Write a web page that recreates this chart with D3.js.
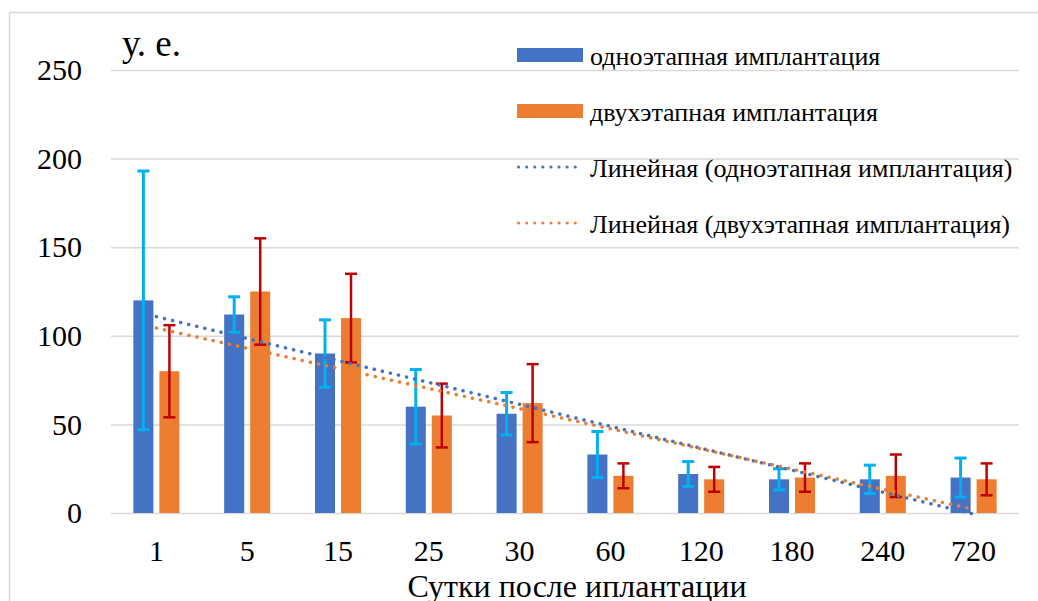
<!DOCTYPE html>
<html>
<head>
<meta charset="utf-8">
<script src="https://cdn.jsdelivr.net/npm/d3@7"></script>
<style>
	html, body { margin: 0; padding: 0; background: #fff; }
	#chart { width: 1038px; height: 601px; }
	text { font-family: "Liberation Serif", "Times New Roman", serif; fill: #000; }
</style>
</head>
<body>
<div id="chart"></div>
<script>
let days = ["1", "5", "15", "25", "30", "60", "120", "180", "240", "720"];
let seriesNames = ["одноэтапная имплантация", "двухэтапная имплантация"];
let oneStage = [120, 112, 90, 60, 56, 33, 22, 19, 19, 20];
let oneStageErr = [73, 10, 19, 21, 12, 13, 7, 6, 8, 11];
let twoStage = [80, 125, 110, 55, 62, 21, 19, 20, 21, 19];
let twoStageErr = [26, 30, 25, 18, 22, 7, 7, 8, 12, 9];
let yTicks = [0, 50, 100, 150, 200, 250];
let yLabel = "у. е.";
let xLabel = "Сутки после иплантации";

let colors = ["#4472C4", "#ED7D31"];
let errColors = ["#00B0F0", "#C00000"];
let gridColor = "#D9D9D9";

let width = 1038;
let height = 601;
let plot = { left: 111, right: 1019, top: 70, bottom: 513 };

let svg = d3
	.select("#chart")
	.append("svg")
	.attr("width", width)
	.attr("height", height);

// outer frame, cut by the picture edge on the right and bottom
svg
	.append("rect")
	.attr("x", 9.5)
	.attr("y", 12.5)
	.attr("width", 1040)
	.attr("height", 600)
	.attr("fill", "none")
	.attr("stroke", gridColor)
	.attr("stroke-width", 1.5);

let xScale = d3
	.scaleBand()
	.domain(days)
	.range([plot.left, plot.right])
	.padding(0);

let xSub = d3
	.scaleBand()
	.domain([0, 1])
	.range([0, xScale.bandwidth()])
	.paddingInner(0.23)
	.paddingOuter(0.86);

let yScale = d3
	.scaleLinear()
	.domain([0, 250])
	.range([plot.bottom, plot.top]);

// grid + y labels
let yAxis = d3
	.axisLeft(yScale)
	.tickValues(yTicks)
	.tickSizeInner(-(plot.right - plot.left))
	.tickSizeOuter(0)
	.tickPadding(29);

svg
	.append("g")
	.attr("transform", `translate(${plot.left},0)`)
	.call(yAxis)
	.call((g) => g.select(".domain").remove())
	.call((g) =>
		g.selectAll("line").attr("stroke", gridColor).attr("stroke-width", 1.5)
	)
	.call((g) => g.selectAll("text").attr("font-size", "30px"));

let xAxis = d3.axisBottom(xScale).tickSize(0).tickPadding(27);

svg
	.append("g")
	.attr("transform", `translate(0,${plot.bottom})`)
	.call(xAxis)
	.call((g) => g.select(".domain").remove())
	.call((g) => g.selectAll("text").attr("font-size", "30px"));

let series = [
	{ values: oneStage, err: oneStageErr },
	{ values: twoStage, err: twoStageErr },
];

// bars
series.forEach((s, si) => {
	svg
		.append("g")
		.selectAll("rect")
		.data(s.values)
		.join("rect")
		.attr("x", (d, i) => xScale(days[i]) + xSub(si))
		.attr("y", (d) => yScale(d))
		.attr("width", xSub.bandwidth())
		.attr("height", (d) => yScale(0) - yScale(d))
		.attr("fill", colors[si]);
});

// error bars
let capHalf = 6;
series.forEach((s, si) => {
	let g = svg
		.append("g")
		.attr("stroke", errColors[si])
		.attr("stroke-width", si === 0 ? 3 : 2.5);
	let cx = (i) => xScale(days[i]) + xSub(si) + xSub.bandwidth() / 2;
	s.values.forEach((v, i) => {
		let top = yScale(v + s.err[i]);
		let bot = yScale(v - s.err[i]);
		g.append("line").attr("x1", cx(i)).attr("x2", cx(i)).attr("y1", top).attr("y2", bot);
		g.append("line").attr("x1", cx(i) - capHalf).attr("x2", cx(i) + capHalf).attr("y1", top).attr("y2", top);
		g.append("line").attr("x1", cx(i) - capHalf).attr("x2", cx(i) + capHalf).attr("y1", bot).attr("y2", bot);
	});
});

// linear trend lines (least squares over category index, like Excel)
let fit = (vals) => {
	let xs = vals.map((d, i) => i + 1);
	let mx = d3.mean(xs);
	let my = d3.mean(vals);
	let sxy = d3.sum(vals, (d, i) => (xs[i] - mx) * (d - my));
	let sxx = d3.sum(xs, (x) => (x - mx) * (x - mx));
	let b = sxy / sxx;
	return xs.map((x) => my + b * (x - mx));
};

let trendLine = d3
	.line()
	.x((d, i) => xScale(days[i]) + xScale.bandwidth() / 2)
	.y((d) => yScale(d));

series.forEach((s, si) => {
	svg
		.append("path")
		.attr("d", trendLine(fit(s.values)))
		.attr("fill", "none")
		.attr("stroke", colors[si])
		.attr("stroke-width", 3.5)
		.attr("stroke-linecap", "round")
		.attr("stroke-dasharray", "0.1 8.2");
});

// axis titles
svg
	.append("text")
	.attr("x", 122)
	.attr("y", 56)
	.attr("font-size", "37px")
	.text(yLabel);

svg
	.append("text")
	.attr("x", 577)
	.attr("y", 597)
	.attr("text-anchor", "middle")
	.attr("font-size", "32px")
	.text(xLabel);

// legend
let legend = svg.append("g").attr("transform", "translate(517,0)");
let rowY = [55, 111, 167, 223];
let legendItems = [
	{ name: seriesNames[0], color: colors[0], kind: "bar" },
	{ name: seriesNames[1], color: colors[1], kind: "bar" },
	{ name: `Линейная (${seriesNames[0]})`, color: colors[0], kind: "line" },
	{ name: `Линейная (${seriesNames[1]})`, color: colors[1], kind: "line" },
];

legendItems.forEach((it, i) => {
	if (it.kind === "bar") {
		legend
			.append("rect")
			.attr("x", 0)
			.attr("y", rowY[i] - 7)
			.attr("width", 66)
			.attr("height", 14)
			.attr("fill", it.color);
	} else {
		legend
			.append("line")
			.attr("x1", 1.5)
			.attr("x2", 66)
			.attr("y1", rowY[i])
			.attr("y2", rowY[i])
			.attr("stroke", it.color)
			.attr("stroke-width", 3)
			.attr("stroke-linecap", "round")
			.attr("stroke-dasharray", "0.1 8");
	}
	legend
		.append("text")
		.attr("x", 73)
		.attr("y", rowY[i] + 10)
		.attr("font-size", "26px")
		.text(it.name);
});
</script>
</body>
</html>
